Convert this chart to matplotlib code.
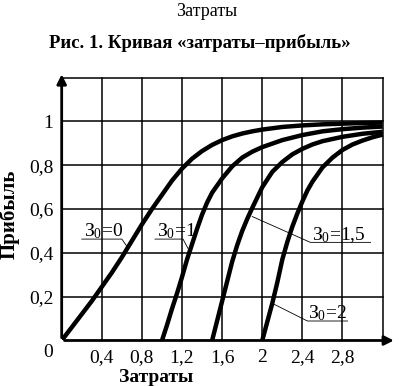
import numpy as np
import matplotlib.pyplot as plt
from matplotlib.transforms import ScaledTranslation

plt.rcParams['font.family'] = ['Liberation Serif', 'DejaVu Serif']
plt.rcParams['mathtext.fontset'] = 'custom'
plt.rcParams['mathtext.rm'] = 'Liberation Serif'
plt.rcParams['mathtext.it'] = 'Liberation Serif'

# данные кривых «затраты-прибыль»
z0_x = [0.0, 0.1, 0.2, 0.3, 0.4, 0.5, 0.6, 0.7, 0.8, 0.9, 1.0, 1.1, 1.2, 1.3, 1.4, 1.5,
        1.6, 1.7, 1.8, 1.9, 2.0, 2.2, 2.4, 2.6, 2.8, 3.0, 3.2]
z0_y = [0.0, 0.06, 0.12, 0.18, 0.245, 0.31, 0.38, 0.455, 0.53, 0.6, 0.665, 0.73, 0.785, 0.83,
        0.865, 0.893, 0.915, 0.932, 0.945, 0.955, 0.963, 0.975, 0.982, 0.987, 0.99, 0.993, 0.995]

z1_x = [1.0, 1.05, 1.1, 1.15, 1.2, 1.25, 1.3, 1.35, 1.4, 1.45, 1.5, 1.6, 1.7, 1.8, 1.9, 2.0,
        2.2, 2.4, 2.6, 2.8, 3.0, 3.2]
z1_y = [0.0, 0.07, 0.145, 0.215, 0.29, 0.37, 0.44, 0.51, 0.575, 0.63, 0.675, 0.74, 0.795, 0.835,
        0.862, 0.883, 0.915, 0.938, 0.955, 0.965, 0.972, 0.977]

z15_x = [1.5, 1.55, 1.6, 1.65, 1.7, 1.75, 1.8, 1.85, 1.9, 2.0, 2.1, 2.2, 2.3, 2.4, 2.5, 2.6,
         2.8, 3.0, 3.2]
z15_y = [0.0, 0.09, 0.18, 0.27, 0.36, 0.435, 0.5, 0.555, 0.605, 0.7, 0.77, 0.815, 0.85, 0.875,
         0.895, 0.91, 0.93, 0.944, 0.953]

z2_x = [2.0, 2.05, 2.1, 2.15, 2.2, 2.25, 2.3, 2.35, 2.4, 2.45, 2.5, 2.6, 2.7, 2.8, 2.9, 3.0,
        3.1, 3.2]
z2_y = [0.0, 0.085, 0.17, 0.265, 0.37, 0.45, 0.52, 0.58, 0.635, 0.685, 0.725, 0.79, 0.835, 0.87,
        0.895, 0.913, 0.928, 0.94]

x_ticks = [0.4, 0.8, 1.2, 1.6, 2.0, 2.4, 2.8]
x_labels = ['0,4', '0,8', '1,2', '1,6', '2', '2,4', '2,8']
y_ticks = [0, 0.2, 0.4, 0.6, 0.8, 1.0]
y_labels = ['0', '0,2', '0,4', '0,6', '0,8', '1']

fig = plt.figure(figsize=(3.99, 3.86), dpi=100)
ax = fig.add_axes([0.1546, 0.1179, 0.842, 0.7007])
ax.set_xlim(0, 3.35)
ax.set_ylim(0, 1.235)
for s in ax.spines.values():
    s.set_visible(False)

# сетка
for gx in np.arange(0.4, 3.21, 0.4):
    ax.plot([gx, gx], [0, 1.2], color='black', lw=1.1, zorder=1)
for gy in np.arange(0.2, 1.21, 0.2):
    ax.plot([0, 3.2], [gy, gy], color='black', lw=1.1, zorder=1)

# оси со стрелками
ax.annotate('', xy=(3.34, 0), xytext=(0, 0),
            arrowprops=dict(arrowstyle='-|>', lw=2, color='black', mutation_scale=14), zorder=3)
ax.annotate('', xy=(0, 1.228), xytext=(0, 0),
            arrowprops=dict(arrowstyle='-|>', lw=2, color='black', mutation_scale=14), zorder=3)

for cx, cy in [(z0_x, z0_y), (z1_x, z1_y), (z15_x, z15_y), (z2_x, z2_y)]:
    ax.plot(cx, cy, color='black', lw=3.2, solid_capstyle='butt', solid_joinstyle='round', zorder=2)

ax.set_xticks(x_ticks, x_labels, fontsize=14)
ax.set_yticks(y_ticks, y_labels, fontsize=14)
ax.tick_params(length=0, pad=6)
lab0 = ax.get_yticklabels()[0]
lab0.set_transform(lab0.get_transform() + ScaledTranslation(0, -7 / 72, fig.dpi_scale_trans))

ax.set_xlabel('Затраты', fontsize=14, fontweight='bold')
ax.xaxis.set_label_coords(0.28, -0.105)
ax.set_ylabel('Прибыль', fontsize=15, fontweight='bold')
ax.yaxis.set_label_coords(-0.125, 0.468)

# подписи кривых
lbl = dict(fontsize=14, color='black')
ax.text(0.22, 0.475, 'З$_0$=0', **lbl)
ax.plot([0.2, 0.6, 0.65], [0.463, 0.463, 0.43], color='black', lw=0.6)
ax.text(0.95, 0.475, 'З$_0$=1', **lbl)
ax.plot([0.93, 1.21, 1.26], [0.463, 0.463, 0.42], color='black', lw=0.6)
ax.text(2.5, 0.46, 'З$_0$=1,5', **lbl)
ax.plot([3.08, 2.48, 1.9], [0.448, 0.448, 0.566], color='black', lw=0.6)
ax.text(2.46, 0.1, 'З$_0$=2', **lbl)
ax.plot([2.85, 2.45, 2.12], [0.089, 0.089, 0.165], color='black', lw=0.6)

fig.text(0.519, 0.969, 'Затраты', ha='center', va='center', fontsize=13)
fig.text(0.5, 0.889, 'Рис. 1. Кривая «затраты–прибыль»', ha='center', va='center',
         fontsize=13.5, fontweight='bold')

fig.savefig('out.png', dpi=100)
